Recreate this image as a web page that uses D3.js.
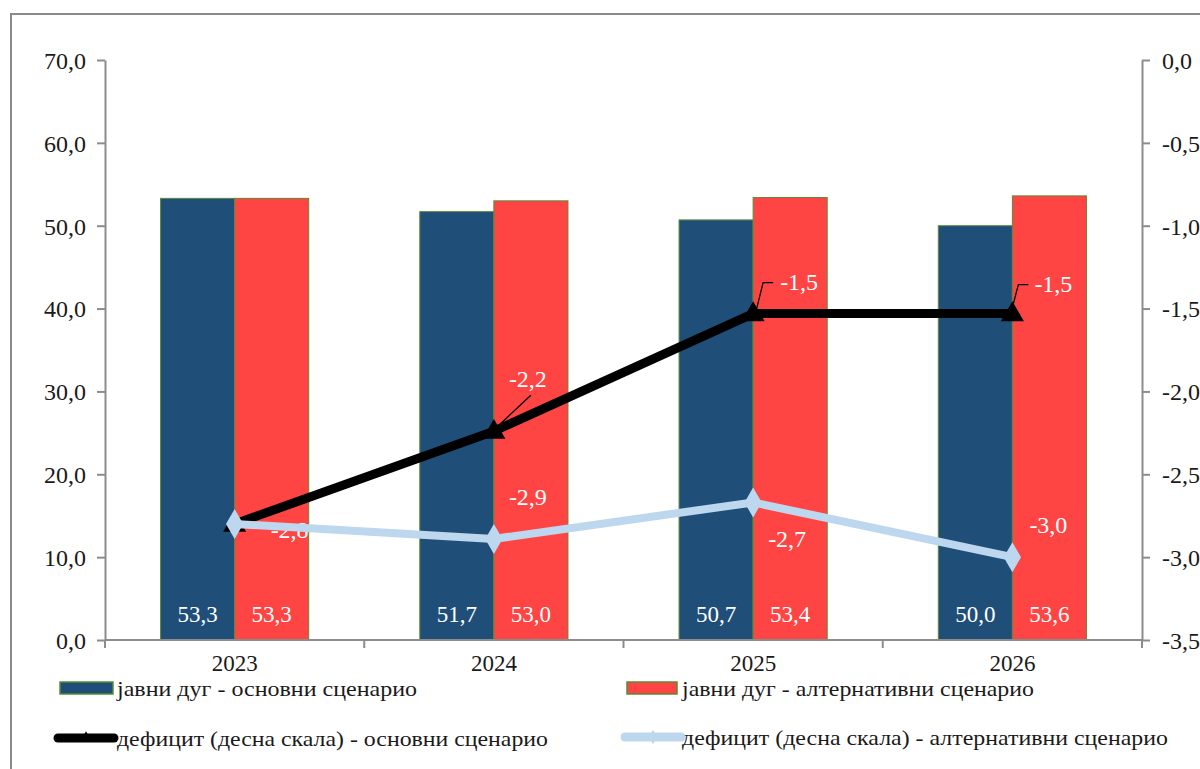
<!DOCTYPE html>
<html>
<head>
<meta charset="utf-8">
<script src="https://cdn.jsdelivr.net/npm/d3@7"></script>
<style>
  html, body { margin: 0; padding: 0; background: #fff; }
  svg { display: block; }
  text { font-family: "Liberation Serif", "DejaVu Serif", "Times New Roman", serif; }
</style>
</head>
<body>
<svg id="chart" width="1200" height="769"></svg>
<script>
// ---- data ----
const years = ["2023", "2024", "2025", "2026"];
const debtBase = [53.3, 51.7, 50.7, 50.0];
const debtAlt = [53.3, 53.0, 53.4, 53.6];
const deficitBase = [-2.8, -2.24, -1.53, -1.53];
const deficitAlt = [-2.8, -2.89, -2.67, -3.0];
const leftTicks = [0, 10, 20, 30, 40, 50, 60, 70];
const rightTicks = [0, -0.5, -1, -1.5, -2, -2.5, -3, -3.5];
const legendLabels = [
  "јавни дуг - основни сценарио",
  "јавни дуг - алтернативни  сценарио",
  "дефицит  (десна скала) - основни сценарио",
  "дефицит  (десна скала) - алтернативни  сценарио"
];

// ---- style ----
const C = {
  blue: "#1f4e79", red: "#ff4444", barStroke: "#5b8a35",
  black: "#000000", light: "#bdd7ee", axis: "#8c8c8c", text: "#1a1a1a"
};
const SERIF = "'Liberation Serif', 'DejaVu Serif', serif";
const LEGEND_FONT = "'DejaVu Serif', 'Liberation Serif', serif";
const fmt = v => d3.format(".1f")(v).replace(".", ",").replace("−", "-");

const svg = d3.select("#chart");
const plot = { left: 105, right: 1142, top: 60, bottom: 640 };

// outer frame
svg.append("rect").attr("x", 11).attr("y", 14).attr("width", 1250).attr("height", 820)
  .attr("fill", "none").attr("stroke", "#8a8a8a").attr("stroke-width", 2);

const x = d3.scaleBand().domain(years).range([plot.left, plot.right]).paddingInner(0).paddingOuter(0);
const x1 = d3.scaleBand().domain(["base", "alt"]).range([0, x.bandwidth()]).paddingInner(0).paddingOuter(0.75);
const yL = d3.scaleLinear().domain([0, 70]).range([plot.bottom, plot.top]);
const yR = d3.scaleLinear().domain([-3.5, 0]).range([plot.bottom, plot.top]);

// ---- bars ----
const barSeries = [
  { key: "base", values: debtBase, color: C.blue },
  { key: "alt", values: debtAlt, color: C.red }
];
const gBars = svg.append("g");
barSeries.forEach(s => {
  gBars.selectAll(null).data(years).enter().append("rect")
    .attr("x", d => x(d) + x1(s.key))
    .attr("y", (d, i) => yL(s.values[i]))
    .attr("width", x1.bandwidth())
    .attr("height", (d, i) => yL(0) - yL(s.values[i]))
    .attr("fill", s.color).attr("stroke", C.barStroke).attr("stroke-width", 1);
  gBars.selectAll(null).data(years).enter().append("text")
    .attr("x", d => x(d) + x1(s.key) + x1.bandwidth() / 2)
    .attr("y", yL(0) - 18)
    .attr("text-anchor", "middle").attr("fill", "#fff")
    .attr("font-family", SERIF).attr("font-size", 23)
    .text((d, i) => fmt(s.values[i]));
});

// ---- axes ----
const axisStyle = g => {
  g.selectAll("path.domain").attr("stroke", C.axis).attr("stroke-width", 2);
  g.selectAll(".tick line").attr("stroke", C.axis).attr("stroke-width", 2);
  g.selectAll(".tick text").attr("fill", C.text).attr("font-size", 24)
    .attr("font-family", SERIF);
};
svg.append("g").attr("transform", `translate(${plot.left},0)`)
  .call(d3.axisLeft(yL).tickValues(leftTicks).tickSize(8).tickSizeOuter(0).tickPadding(11).tickFormat(fmt))
  .call(axisStyle)
  .call(g => g.selectAll(".tick text").attr("dy", "0.35em"));
svg.append("g").attr("transform", `translate(${plot.right},0)`)
  .call(d3.axisRight(yR).tickValues(rightTicks).tickSize(8).tickSizeOuter(0).tickPadding(12).tickFormat(fmt))
  .call(axisStyle)
  .call(g => g.selectAll(".tick text").attr("dy", "0.35em"));

// x axis with ticks at category boundaries
const gx = svg.append("g").attr("transform", `translate(0,${plot.bottom})`);
gx.append("line").attr("x1", plot.left).attr("x2", plot.right).attr("stroke", C.axis).attr("stroke-width", 2);
const bounds = years.map(d => x(d)).concat([x(years[years.length - 1]) + x.bandwidth()]);
gx.selectAll(null).data(bounds).enter().append("line")
  .attr("x1", d => d).attr("x2", d => d).attr("y1", 0).attr("y2", 8)
  .attr("stroke", C.axis).attr("stroke-width", 2);
gx.selectAll(null).data(years).enter().append("text")
  .attr("x", d => x(d) + x.bandwidth() / 2).attr("y", 31)
  .attr("text-anchor", "middle").attr("fill", C.text)
  .attr("font-family", SERIF).attr("font-size", 23)
  .text(d => d);

// ---- deficit data labels (drawn under the lines) ----
const cx = d => x(d) + x.bandwidth() / 2;
const baseLabelPos = [null,
  { dx: 34, dy: -44, lead: [[37, -36], [4, -5]] },
  { dx: 46, dy: -24, lead: [[20, -31], [10, -31], [3, -3]] },
  { dx: 41, dy: -22, lead: [[16, -29], [6, -29], [1, -10]] }];
const altLabelPos = [{ dx: 55, dy: 14 }, { dx: 34, dy: -34 }, { dx: 34, dy: 45 }, { dx: 36, dy: -24 }];

const gLab = svg.append("g");
const drawLabels = (vals, pos) => {
  vals.forEach((v, i) => {
    const p = pos[i];
    if (!p) return;
    const px = cx(years[i]), py = yR(v);
    if (p.lead) {
      gLab.append("path")
        .attr("d", d3.line()(p.lead.map(q => [px + q[0], py + q[1]])))
        .attr("fill", "none").attr("stroke", "#000").attr("stroke-width", 1.3);
    }
    gLab.append("text").attr("x", px + p.dx).attr("y", py + p.dy)
      .attr("text-anchor", "middle").attr("fill", "#fff")
      .attr("font-family", SERIF).attr("font-size", 24)
      .text(fmt(v));
  });
};
drawLabels(deficitBase, baseLabelPos);
drawLabels(deficitAlt, altLabelPos);

// ---- lines ----
const line = vals => d3.line().x((d, i) => cx(years[i])).y(d => yR(d))(vals);
const tri = d3.symbol().type(d3.symbolTriangle).size(230);
const dia = d3.symbol().type(d3.symbolDiamond).size(260);

svg.append("path").attr("d", line(deficitBase)).attr("fill", "none")
  .attr("stroke", C.black).attr("stroke-width", 9).attr("stroke-linejoin", "round");
svg.selectAll(null).data(deficitBase).enter().append("path")
  .attr("d", tri).attr("fill", C.black)
  .attr("transform", (d, i) => `translate(${cx(years[i])},${yR(d) + 1})`);

svg.append("path").attr("d", line(deficitAlt)).attr("fill", "none")
  .attr("stroke", C.light).attr("stroke-width", 8).attr("stroke-linejoin", "round");
svg.selectAll(null).data(deficitAlt).enter().append("path")
  .attr("d", dia).attr("fill", C.light)
  .attr("transform", (d, i) => `translate(${cx(years[i])},${yR(d)})`);

// ---- legend ----
const legendItems = [
  { label: legendLabels[0], type: "bar", color: C.blue, sx: 60, sw: 53, cy: 688, tx: 117, tw: 300 },
  { label: legendLabels[1], type: "bar", color: C.red, sx: 627, sw: 50, cy: 688, tx: 682, tw: 352 },
  { label: legendLabels[2], type: "line", color: C.black, sx: 58, sw: 56, cy: 738, tx: 117, tw: 431, sym: d3.symbolTriangle },
  { label: legendLabels[3], type: "line", color: C.light, sx: 625, sw: 56, cy: 737, tx: 682, tw: 486, sym: d3.symbolDiamond }
];
const gl = svg.append("g");
legendItems.forEach(it => {
  if (it.type === "bar") {
    gl.append("rect").attr("x", it.sx).attr("y", it.cy - 6).attr("width", it.sw).attr("height", 12)
      .attr("fill", it.color).attr("stroke", C.barStroke).attr("stroke-width", 1.5);
  } else {
    gl.append("line").attr("x1", it.sx).attr("x2", it.sx + it.sw).attr("y1", it.cy).attr("y2", it.cy)
      .attr("stroke", it.color).attr("stroke-width", 9).attr("stroke-linecap", "round");
    gl.append("path").attr("d", d3.symbol().type(it.sym).size(60))
      .attr("fill", it.color).attr("transform", `translate(${it.sx + it.sw / 2},${it.cy})`);
  }
  gl.append("text").attr("x", it.tx).attr("y", it.cy + 8)
    .attr("fill", C.text).attr("font-family", LEGEND_FONT).attr("font-size", 22)
    .attr("textLength", it.tw).attr("lengthAdjust", "spacingAndGlyphs")
    .text(it.label);
});
</script>
</body>
</html>
